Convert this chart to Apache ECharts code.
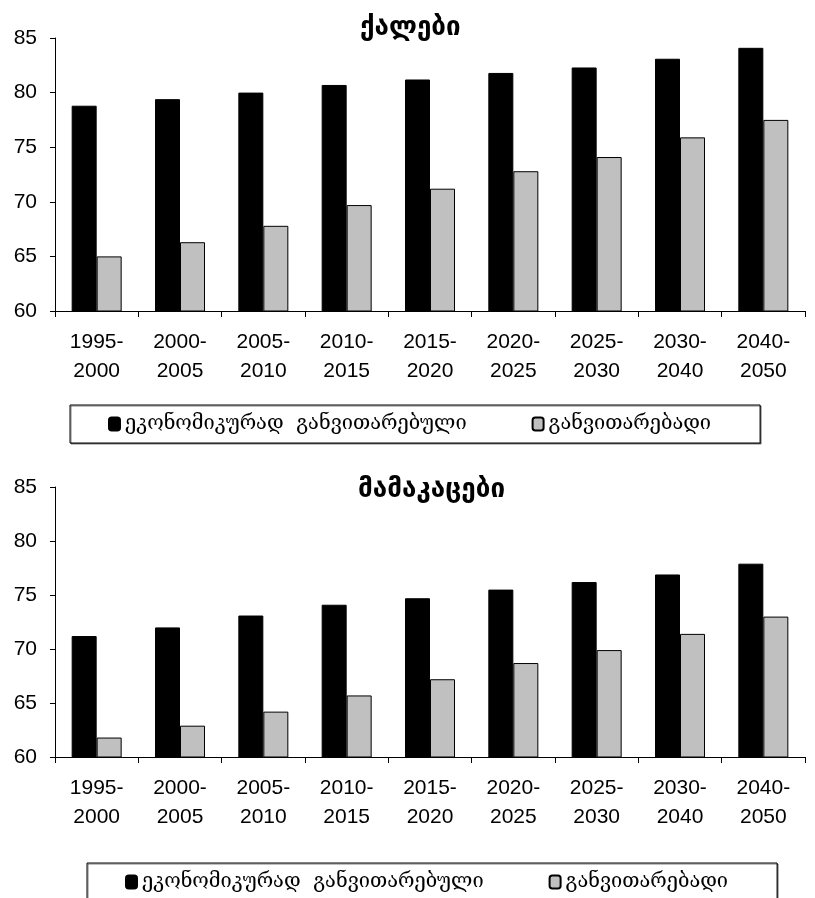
<!DOCTYPE html>
<html><head><meta charset="utf-8">
<script src="https://cdn.jsdelivr.net/npm/echarts@6/dist/echarts.min.js"></script>
<style>html,body{margin:0;padding:0;background:#fff}#c{width:815px;height:898px}</style>
</head><body><div id="c"></div>
<script>
const categories = ['1995-\n2000','2000-\n2005','2005-\n2010','2010-\n2015','2015-\n2020','2020-\n2025','2025-\n2030','2030-\n2040','2040-\n2050'];
const seriesNames = ['ეკონომიკურად  განვითარებული','განვითარებადი'];
const titles = ['ქალები','მამაკაცები'];
const womenDeveloped = [78.8,79.4,80.0,80.7,81.2,81.8,82.3,83.1,84.1];
const womenDeveloping = [65.0,66.3,67.8,69.7,71.2,72.8,74.1,75.9,77.5];
const menDeveloped = [71.2,72.0,73.1,74.1,74.7,75.5,76.2,76.9,77.9];
const menDeveloping = [61.8,62.9,64.2,65.7,67.2,68.7,69.9,71.4,73.0];
const yTicks = {min:60,max:85,interval:5};

const chart = echarts.init(document.getElementById('c'));
const labelFont = 'Liberation Sans, Arial, sans-serif';
const geoFont = 'DejaVu Serif, serif';
function xAxis(i){return {type:'category',gridIndex:i,data:categories,
  axisLine:{lineStyle:{color:'#000',width:1}},axisTick:{show:true,length:6,lineStyle:{color:'#000'}},
  axisLabel:{color:'#000',fontFamily:labelFont,fontSize:21,lineHeight:29,margin:17}};}
function yAxis(i){return {type:'value',gridIndex:i,min:yTicks.min,max:yTicks.max,interval:yTicks.interval,
  axisLine:{show:true,lineStyle:{color:'#000'}},axisTick:{show:true,length:5,lineStyle:{color:'#000'}},
  splitLine:{show:false},axisLabel:{color:'#000',fontFamily:labelFont,fontSize:21,margin:18}};}
function bar(name,data,i,color){return {type:'bar',name:name,data:data,xAxisIndex:i,yAxisIndex:i,
  barWidth:'30%',barGap:'0%',itemStyle:{color:color,borderColor:'#000',borderWidth:1},animation:false};}
const legendCommon = {data:seriesNames,orient:'horizontal',itemWidth:11,itemHeight:13,itemGap:65,
  borderColor:'#000',borderWidth:1,padding:[9,49,9,38],backgroundColor:'#fff',
  shadowColor:'rgba(0,0,0,0.5)',shadowOffsetX:1,shadowOffsetY:1,shadowBlur:0,
  textStyle:{fontFamily:geoFont,fontSize:20,color:'#000'},selectedMode:false};
const titleStyle = {fontFamily:'DejaVu Sans, sans-serif',fontWeight:'bold',fontSize:26,color:'#000'};
chart.setOption({
  animation:false,
  title:[
    {text:titles[0],left:355,top:10,textStyle:titleStyle},
    {text:titles[1],left:353,top:472,textStyle:titleStyle}
  ],
  legend:[
    Object.assign({},legendCommon,{left:70,top:405}),
    Object.assign({},legendCommon,{left:87,top:863})
  ],
  grid:[
    {left:55,right:10,top:38,height:273},
    {left:55,right:10,top:487,height:270}
  ],
  xAxis:[xAxis(0),xAxis(1)],
  yAxis:[yAxis(0),yAxis(1)],
  series:[
    bar(seriesNames[0],womenDeveloped,0,'#000'),
    bar(seriesNames[1],womenDeveloping,0,'#c0c0c0'),
    bar(seriesNames[0],menDeveloped,1,'#000'),
    bar(seriesNames[1],menDeveloping,1,'#c0c0c0')
  ]
});
</script></body></html>
